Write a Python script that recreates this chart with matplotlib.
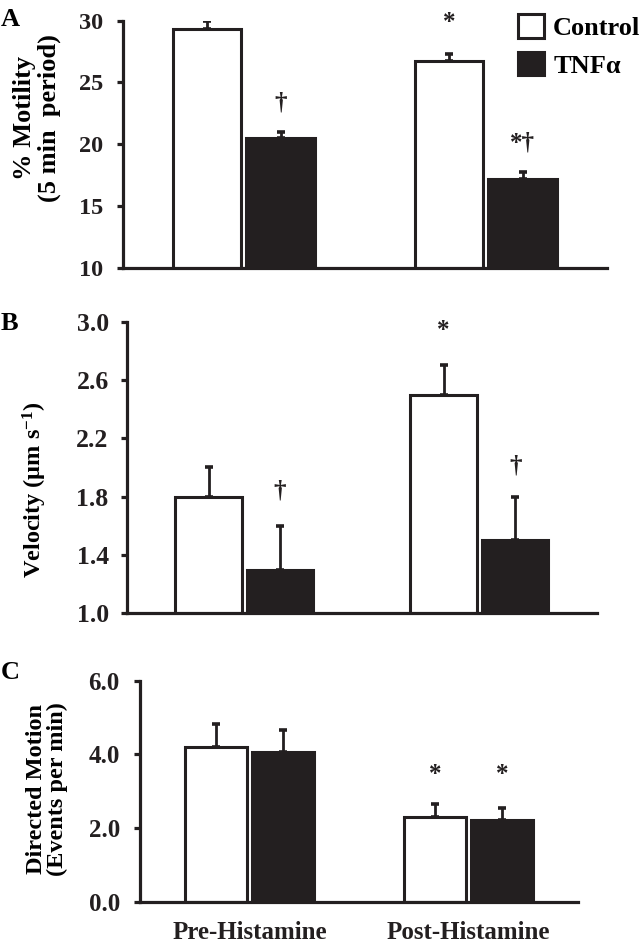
import matplotlib
matplotlib.use("Agg")
import matplotlib.pyplot as plt
from matplotlib.patches import Patch

plt.rcParams['font.family'] = ['Liberation Serif', 'DejaVu Serif']
plt.rcParams['font.weight'] = 'bold'
plt.rcParams['mathtext.fontset'] = 'custom'
plt.rcParams['mathtext.rm'] = 'Liberation Serif:bold'
plt.rcParams['mathtext.bf'] = 'Liberation Serif:bold'
plt.rcParams['mathtext.default'] = 'bf'

# ---------------- data ----------------
groups = ['Pre-Histamine', 'Post-Histamine']
series = ['Control', 'TNF\u03b1']

motility_control = [29.3, 26.7]
motility_control_se = [0.65, 0.6]
motility_tnf = [20.5, 17.2]
motility_tnf_se = [0.5, 0.55]

velocity_control = [1.8, 2.5]
velocity_control_se = [0.2, 0.2]
velocity_tnf = [1.3, 1.5]
velocity_tnf_se = [0.3, 0.3]

directed_control = [4.2, 2.3]
directed_control_se = [0.62, 0.35]
directed_tnf = [4.07, 2.21]
directed_tnf_se = [0.6, 0.33]

# annotations: (group index, series index, text, y value)
motility_marks = [(1, 0, '*', 29.85), (0, 1, '\u2020', 23.3), (1, 1, '*\u2020', 20.1)]
velocity_marks = [(1, 0, '*', 2.94), (0, 1, '\u2020', 1.84), (1, 1, '\u2020', 2.01)]
directed_marks = [(1, 0, '*', 3.44), (1, 1, '*', 3.44)]

motility_ticks = [10, 15, 20, 25, 30]
velocity_ticks = [1.0, 1.4, 1.8, 2.2, 2.6, 3.0]
directed_ticks = [0.0, 2.0, 4.0, 6.0]

# ---------------- figure ----------------
W, H = 641, 947
fig = plt.figure(figsize=(W / 100, H / 100), dpi=100)
BLACK = '#231f20'


def px_axes(left, right, top, bottom):
    return fig.add_axes([left / W, 1 - bottom / H, (right - left) / W, (bottom - top) / H])


def panel(ax, ctrl, ctrl_se, tnf, tnf_se, ticks, fmt, marks, tick_fs, pad, xlabels=False):
    off = 0.152
    width = 0.283
    xs = list(range(len(groups)))
    xc = [x - off for x in xs]
    xt = [x + off for x in xs]
    ax.bar(xc, ctrl, width=width, color='white', edgecolor=BLACK,
           linewidth=2.2, zorder=2)
    ax.bar(xt, tnf, width=width, color=BLACK, edgecolor=BLACK,
           linewidth=2.2, zorder=2)
    ax.errorbar(xc, ctrl, yerr=[[0] * len(ctrl), ctrl_se], fmt='none', ecolor=BLACK,
                elinewidth=2.0, capsize=3.0, capthick=2.6, zorder=3)
    ax.errorbar(xt, tnf, yerr=[[0] * len(tnf), tnf_se], fmt='none', ecolor=BLACK,
                elinewidth=2.0, capsize=3.0, capthick=2.6, zorder=3)
    pos = [xc, xt]
    for g, s, txt, y in marks:
        ax.text(pos[s][g], y, txt, ha='center', va='center', fontsize=18,
                fontweight='bold', color=BLACK)
    ax.set_xlim(-0.5, 1.5)
    ax.set_ylim(ticks[0], ticks[-1])
    ax.set_yticks(ticks)
    ax.set_yticklabels([fmt.format(t) for t in ticks], fontsize=tick_fs, fontweight='bold')
    for side in ['top', 'right']:
        ax.spines[side].set_visible(False)
    for side in ['left', 'bottom']:
        ax.spines[side].set_linewidth(2.3)
        ax.spines[side].set_color(BLACK)
    ax.tick_params(axis='y', direction='out', length=4.5, width=2.3, pad=pad, colors=BLACK)
    if xlabels:
        ax.set_xticks(xs)
        ax.set_xticklabels(groups, fontsize=18, fontweight='bold')
        ax.tick_params(axis='x', length=0, pad=14, colors=BLACK)
    else:
        ax.set_xticks([])
    ax.set_facecolor('none')


axA = px_axes(123, 606.7, 20.7, 267.7)
panel(axA, motility_control, motility_control_se, motility_tnf, motility_tnf_se,
      motility_ticks, '{:.0f}', motility_marks, 17.5, 10)

axB = px_axes(126.7, 597, 321.7, 613.3)
panel(axB, velocity_control, velocity_control_se, velocity_tnf, velocity_tnf_se,
      velocity_ticks, '{:.1f}', velocity_marks, 18.5, 8.5)

axC = px_axes(140, 578, 680.7, 901.7)
panel(axC, directed_control, directed_control_se, directed_tnf, directed_tnf_se,
      directed_ticks, '{:.1f}', directed_marks, 18, 10, xlabels=True)


def ftext(x, y, s, **kw):
    fig.text(x / W, 1 - y / H, s, **kw)


# panel letters
ftext(1, 19, 'A', fontsize=19, fontweight='bold', va='center', ha='left')
ftext(1, 323, 'B', fontsize=19, fontweight='bold', va='center', ha='left')
ftext(1, 672, 'C', fontsize=19, fontweight='bold', va='center', ha='left')

# y labels
ftext(37, 118, '% Motility\n(5 min  period)', fontsize=19, fontweight='bold',
      rotation=90, ha='center', va='center', multialignment='center', linespacing=1.05)
ftext(35, 490, 'Velocity (\u00b5m s$^{-1}$)', fontsize=17.5, fontweight='bold',
      rotation=90, ha='center', va='center')
ftext(47, 789, 'Directed Motion\n(Events per min)', fontsize=17.5, fontweight='bold',
      rotation=90, ha='center', va='center', multialignment='center', linespacing=1.05)

# legend
handles = [Patch(facecolor='white', edgecolor=BLACK, linewidth=2.2, label=series[0]),
           Patch(facecolor=BLACK, edgecolor=BLACK, linewidth=2.2, label=series[1])]
leg = fig.legend(handles=handles, loc='upper left', bbox_to_anchor=(518 / W, 1 - 14 / H),
                 frameon=False, fontsize=19, handlelength=1.0, handleheight=1.0,
                 handletextpad=0.33, labelspacing=0.45, borderpad=0, borderaxespad=0)
for t in leg.get_texts():
    t.set_fontweight('bold')

fig.savefig('out.png', dpi=100)
